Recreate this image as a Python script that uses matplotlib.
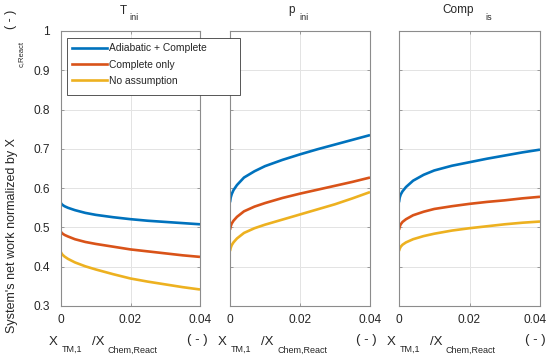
import matplotlib
matplotlib.use("Agg")
import matplotlib.pyplot as plt
from matplotlib.patches import Rectangle
from matplotlib.lines import Line2D
from matplotlib.transforms import ScaledTranslation

plt.rcParams['font.family'] = ['Liberation Sans', 'DejaVu Sans']

# ---------------- data ----------------
x_ratio = [0, 0.0002, 0.0005, 0.001, 0.002, 0.004, 0.007, 0.01,
           0.015, 0.02, 0.025, 0.03, 0.035, 0.04]

series_labels = ["Adiabatic + Complete", "Complete only", "No assumption"]
series_colors = ["#0072BD", "#D95319", "#EDB120"]

# panel 1: T_ini
tini_adiabatic = [0.562, 0.559, 0.557, 0.554, 0.550, 0.544, 0.537, 0.532,
                  0.526, 0.521, 0.517, 0.514, 0.511, 0.508]
tini_complete = [0.489, 0.486, 0.484, 0.481, 0.477, 0.470, 0.463, 0.458,
                 0.451, 0.444, 0.439, 0.434, 0.429, 0.425]
tini_none = [0.437, 0.433, 0.430, 0.426, 0.420, 0.411, 0.401, 0.393,
             0.381, 0.370, 0.362, 0.355, 0.348, 0.342]

# panel 2: p_ini
pini_adiabatic = [0.564, 0.576, 0.585, 0.595, 0.608, 0.627, 0.643, 0.656,
                  0.672, 0.686, 0.699, 0.711, 0.723, 0.735]
pini_complete = [0.494, 0.503, 0.510, 0.517, 0.527, 0.541, 0.553, 0.562,
                 0.575, 0.586, 0.596, 0.606, 0.616, 0.627]
pini_none = [0.440, 0.448, 0.455, 0.462, 0.472, 0.486, 0.498, 0.507,
             0.520, 0.533, 0.546, 0.559, 0.574, 0.590]

# panel 3: Comp_is
comp_adiabatic = [0.564, 0.576, 0.584, 0.592, 0.603, 0.619, 0.634, 0.645,
                  0.657, 0.666, 0.675, 0.683, 0.691, 0.698]
comp_complete = [0.494, 0.502, 0.508, 0.514, 0.521, 0.531, 0.540, 0.547,
                 0.554, 0.560, 0.565, 0.569, 0.574, 0.578]
comp_none = [0.440, 0.446, 0.451, 0.456, 0.462, 0.470, 0.478, 0.484,
             0.492, 0.498, 0.503, 0.508, 0.512, 0.515]

panel_titles = [("T", "ini"), ("p", "ini"), ("Comp", "is")]
x_ticks = [0, 0.02, 0.04]
x_ticklabels = ["0", "0.02", "0.04"]
y_ticks = [0.3, 0.4, 0.5, 0.6, 0.7, 0.8, 0.9, 1.0]
y_ticklabels = ["0.3", "0.4", "0.5", "0.6", "0.7", "0.8", "0.9", "1"]

panel_data = [
    [tini_adiabatic, tini_complete, tini_none],
    [pini_adiabatic, pini_complete, pini_none],
    [comp_adiabatic, comp_complete, comp_none],
]

# ---------------- layout ----------------
W, H = 550, 359
fig = plt.figure(figsize=(W / 100, H / 100), dpi=100)
fig.patch.set_facecolor("white")


def fx(px):
    return px / W


def fy(py):
    return 1 - py / H


panel_lr = [(61, 200), (230, 370), (399, 540)]
top_px, bot_px = 31, 306
title_pos = [(120, 129), (288, 299), (442, 485)]

frame_col = "#8c8c8c"
grid_col = "#e3e3e3"
text_col = "#262626"

axes = []
for i, (l, r) in enumerate(panel_lr):
    ax = fig.add_axes([fx(l), fy(bot_px), fx(r - l), (bot_px - top_px) / H])
    for j, vals in enumerate(panel_data[i]):
        ax.plot(x_ratio, vals, color=series_colors[j], lw=1.9,
                label=series_labels[j], solid_capstyle="butt",
                solid_joinstyle="round")
    ax.set_xlim(0, 0.04)
    ax.set_ylim(0.3, 1.0)
    ax.set_xticks(x_ticks)
    ax.set_yticks(y_ticks)
    ax.set_xticklabels(x_ticklabels)
    if i == 0:
        ax.set_yticklabels(y_ticklabels)
    else:
        ax.set_yticklabels([])
    ax.grid(True, color=grid_col, lw=0.7)
    ax.set_axisbelow(True)
    for s in ax.spines.values():
        s.set_color(frame_col)
        s.set_linewidth(0.8)
    ax.tick_params(direction="in", length=2.5, width=0.6, color=frame_col,
                   labelcolor=text_col, labelsize=8.6, top=True, right=True)
    ax.tick_params(axis="x", pad=6)
    ax.tick_params(axis="y", pad=8)
    axes.append(ax)

    # title (main + subscript)
    tx, sx = title_pos[i]
    main, sub = panel_titles[i]
    fig.text(fx(tx), fy(13.5), main, fontsize=8.5, color=text_col,
             ha="left", va="baseline")
    fig.text(fx(sx), fy(19.5), sub, fontsize=6.5, color=text_col,
             ha="left", va="baseline")

    # x label pieces
    fig.text(fx(l - 12), fy(345), "X", fontsize=9.5, color=text_col,
             ha="left", va="baseline")
    fig.text(fx(l + 1), fy(352), "TM,1", fontsize=6.5, color=text_col,
             ha="left", va="baseline")
    fig.text(fx(l + 31), fy(345), "/X", fontsize=9.5, color=text_col,
             ha="left", va="baseline")
    fig.text(fx(l + 47), fy(353), "Chem,React", fontsize=6.5, color=text_col,
             ha="left", va="baseline")
    fig.text(fx(l + 126), fy(340.5), "( - )", fontsize=9.5, color=text_col,
             ha="left", va="center")

# the last tick label of the right panel sits a little left, as in the reference
last_lbl = axes[2].get_xticklabels()[-1]
last_lbl.set_transform(last_lbl.get_transform() +
                       ScaledTranslation(-5 / 100, 0, fig.dpi_scale_trans))

# y label pieces
fig.text(fx(12), fy(333), "System's net work normalized by X", fontsize=9,
         color=text_col, rotation=90, ha="center", va="bottom")
fig.text(fx(21.5), fy(67), "c,React", fontsize=5.5, color=text_col,
         rotation=90, ha="center", va="bottom")
fig.text(fx(11), fy(19), "( - )", fontsize=9, color=text_col,
         rotation=90, ha="center", va="center")

# legend (drawn above all panels)
box = Rectangle((fx(66.5), fy(95)), fx(240 - 66.5), (95 - 38) / H,
                transform=fig.transFigure, facecolor="white",
                edgecolor="#3a3a3a", lw=0.6, zorder=10)
fig.add_artist(box)
handles = [Line2D([], [], color=c, lw=1.9) for c in series_colors]
leg = fig.legend(handles, series_labels, loc="upper left",
                 bbox_to_anchor=(fx(66.5), fy(38)), frameon=False,
                 fontsize=7.4, handlelength=3.4, handletextpad=0.2,
                 labelspacing=0.62, borderpad=0.5, borderaxespad=0)
leg.set_zorder(11)
for t in leg.get_texts():
    t.set_color(text_col)

fig.savefig("out.png", dpi=100)
